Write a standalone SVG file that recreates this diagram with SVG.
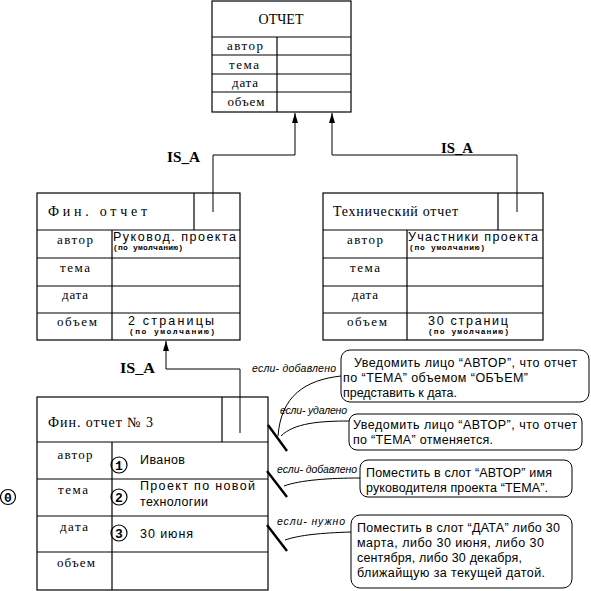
<svg xmlns="http://www.w3.org/2000/svg" width="591" height="591" viewBox="0 0 591 591">
<style>
.b{fill:none;stroke:#000;stroke-width:1.2}
.c{fill:none;stroke:#000;stroke-width:1}
.s{stroke:#000;stroke-width:2.4}
.lab{font-family:"Liberation Serif",serif;font-size:13px;fill:#000}
.ttl{font-family:"Liberation Serif",serif;font-size:14px;fill:#000}
.val{font-family:"Liberation Sans",Arial,sans-serif;font-size:12.5px;fill:#000}
.sm{font-family:"Liberation Mono",monospace;font-size:8px;font-weight:bold;fill:#000}
.isa{font-family:"Liberation Serif",serif;font-size:14px;font-weight:bold;fill:#000}
.it{font-family:"Liberation Sans",Arial,sans-serif;font-size:10.5px;font-style:italic;fill:#000}
.co{font-family:"Liberation Sans",Arial,sans-serif;font-size:12.5px;fill:#000}
.num{font-family:"Liberation Mono",monospace;font-size:13px;font-weight:bold;fill:#000}
</style>
<defs>
<marker id="ar" viewBox="0 0 10 6" refX="10" refY="3" markerWidth="10" markerHeight="6" markerUnits="userSpaceOnUse" orient="auto">
<path d="M0,0 L10,3 L0,6 z" fill="#000"/>
</marker>
</defs>
<rect width="591" height="591" fill="#fff"/>

<g id="otchet">
<rect class="b" x="212" y="1" width="139" height="111"/>
<path class="b" d="M212,37H351M212,55H351M212,74H351M212,92H351M277,37V112"/>
<text class="ttl" x="281" y="24" text-anchor="middle" textLength="45" lengthAdjust="spacing">ОТЧЕТ</text>
<text class="lab" x="245" y="50" text-anchor="middle" textLength="36" lengthAdjust="spacing">автор</text>
<text class="lab" x="244" y="69" text-anchor="middle" textLength="30" lengthAdjust="spacing">тема</text>
<text class="lab" x="245" y="87" text-anchor="middle" textLength="26" lengthAdjust="spacing">дата</text>
<text class="lab" x="246" y="106" text-anchor="middle" textLength="37" lengthAdjust="spacing">объем</text>
</g>

<g id="fin">
<rect class="b" x="37" y="193" width="203" height="147"/>
<path class="b" d="M37,230H240M37,258H240M37,286H240M37,313H240M112,230V340M194,193V230"/>
<text class="ttl" x="48" y="216" textLength="99" lengthAdjust="spacing">Фин. отчет</text>
<text class="lab" x="75" y="244" text-anchor="middle" textLength="36" lengthAdjust="spacing">автор</text>
<text class="lab" x="75" y="272" text-anchor="middle" textLength="30" lengthAdjust="spacing">тема</text>
<text class="lab" x="75" y="299" text-anchor="middle" textLength="26" lengthAdjust="spacing">дата</text>
<text class="lab" x="77" y="326" text-anchor="middle" textLength="40" lengthAdjust="spacing">объем</text>
<text class="val" x="113" y="241" textLength="123" lengthAdjust="spacing">Руковод.  проекта</text>
<text class="sm" x="113" y="250" textLength="70" lengthAdjust="spacing">(по умолчанию)</text>
<text class="val" x="128" y="325" textLength="86" lengthAdjust="spacing">2  страницы</text>
<text class="sm" x="129" y="334" textLength="86" lengthAdjust="spacing">(по умолчанию)</text>
</g>

<g id="tech">
<rect class="b" x="323" y="193" width="220" height="147"/>
<path class="b" d="M323,230H543M323,258H543M323,286H543M323,313H543M407,230V340M498,193V230"/>
<text class="ttl" x="333" y="216" textLength="125" lengthAdjust="spacing">Технический отчет</text>
<text class="lab" x="365" y="244" text-anchor="middle" textLength="36" lengthAdjust="spacing">автор</text>
<text class="lab" x="365" y="272" text-anchor="middle" textLength="30" lengthAdjust="spacing">тема</text>
<text class="lab" x="365" y="299" text-anchor="middle" textLength="26" lengthAdjust="spacing">дата</text>
<text class="lab" x="367" y="326" text-anchor="middle" textLength="40" lengthAdjust="spacing">объем</text>
<text class="val" x="408" y="241" textLength="130" lengthAdjust="spacing">Участники  проекта</text>
<text class="sm" x="409" y="250" textLength="76" lengthAdjust="spacing">(по умолчанию)</text>
<text class="val" x="428" y="325" textLength="80" lengthAdjust="spacing">30  страниц</text>
<text class="sm" x="428" y="334" textLength="81" lengthAdjust="spacing">(по умолчанию)</text>
</g>

<g id="fin3">
<rect class="b" x="37" y="397" width="231" height="193"/>
<path class="b" d="M37,442H268M37,479H268M37,516H268M37,552H268M112,442V590M222,397V442"/>
<text class="ttl" x="48" y="427" textLength="105" lengthAdjust="spacing">Фин. отчет  № 3</text>
<text class="lab" x="75" y="459" text-anchor="middle" textLength="35" lengthAdjust="spacing">автор</text>
<text class="lab" x="73" y="494" text-anchor="middle" textLength="30" lengthAdjust="spacing">тема</text>
<text class="lab" x="74" y="531" text-anchor="middle" textLength="28" lengthAdjust="spacing">дата</text>
<text class="lab" x="76" y="567" text-anchor="middle" textLength="38" lengthAdjust="spacing">объем</text>
<text class="val" x="140" y="464" textLength="45" lengthAdjust="spacing">Иванов</text>
<text class="val" x="140" y="490" textLength="115" lengthAdjust="spacing">Проект по новой</text>
<text class="val" x="140" y="506" textLength="68" lengthAdjust="spacing">технологии</text>
<text class="val" x="140" y="538" textLength="53" lengthAdjust="spacing">30  июня</text>
<circle class="b" cx="119" cy="465" r="8"/>
<text class="num" x="119" y="469.5" text-anchor="middle">1</text>
<circle class="b" cx="119" cy="497" r="8"/>
<text class="num" x="119" y="501.5" text-anchor="middle">2</text>
<circle class="b" cx="119" cy="533" r="8"/>
<text class="num" x="119" y="537.5" text-anchor="middle">3</text>
</g>

<g id="zero">
<circle class="b" cx="8" cy="497" r="7.5"/>
<text class="num" x="8" y="501.5" text-anchor="middle">0</text>
</g>

<g id="connectors">
<path class="c" d="M213,212V155H295V113" marker-end="url(#ar)"/>
<path class="c" d="M517,212V155H332V113" marker-end="url(#ar)"/>
<path class="c" d="M240,433V369H166V341" marker-end="url(#ar)"/>
<text class="isa" x="167" y="162" textLength="33" lengthAdjust="spacingAndGlyphs">IS_A</text>
<text class="isa" x="441" y="153" textLength="32" lengthAdjust="spacingAndGlyphs">IS_A</text>
<text class="isa" x="120" y="373" textLength="35" lengthAdjust="spacingAndGlyphs">IS_A</text>
<line class="s" x1="268" y1="425" x2="287" y2="451"/>
<line class="s" x1="267" y1="471" x2="287" y2="497"/>
<line class="s" x1="267" y1="525" x2="287" y2="551"/>
<path class="c" d="M341,376C305,380 281,396 278,436"/>
<path class="c" d="M349,421C320,421 294,423 281,436"/>
<path class="c" d="M360,478C330,478 300,480 284,486"/>
<path class="c" d="M351,532C320,533 300,535 285,540"/>
<text class="it" x="252" y="372" textLength="84" lengthAdjust="spacing">если- добавлено</text>
<text class="it" x="280" y="414" textLength="67" lengthAdjust="spacing">если- удалено</text>
<text class="it" x="277" y="473" textLength="80" lengthAdjust="spacing">если- добавлено</text>
<text class="it" x="277" y="525" textLength="68" lengthAdjust="spacing">если- нужно</text>
</g>

<g id="note1">
<rect class="c" x="341" y="350" width="248" height="52" rx="9"/>
<text class="co" x="354" y="367" textLength="223" lengthAdjust="spacing">Уведомить лицо “АВТОР”, что отчет</text>
<text class="co" x="343" y="382" textLength="185" lengthAdjust="spacing">по “ТЕМА” объемом “ОБЪЕМ”</text>
<text class="co" x="343" y="397" textLength="114" lengthAdjust="spacing">представить к  дата.</text>
</g>
<g id="note2">
<rect class="c" x="349" y="414" width="233" height="36" rx="8"/>
<text class="co" x="353" y="429" textLength="224" lengthAdjust="spacing">Уведомить лицо “АВТОР”, что отчет</text>
<text class="co" x="353" y="444" textLength="140" lengthAdjust="spacing">по “ТЕМА” отменяется.</text>
</g>
<g id="note3">
<rect class="c" x="360" y="460" width="212" height="37" rx="8"/>
<text class="co" x="366" y="477" textLength="186" lengthAdjust="spacing">Поместить в слот “АВТОР” имя</text>
<text class="co" x="366" y="492" textLength="182" lengthAdjust="spacing">руководителя проекта “ТЕМА”.</text>
</g>
<g id="note4">
<rect class="c" x="351" y="515" width="221" height="73" rx="9"/>
<text class="co" x="357" y="532" textLength="203" lengthAdjust="spacing">Поместить в слот “ДАТА” либо 30</text>
<text class="co" x="357" y="547" textLength="187" lengthAdjust="spacing">марта, либо 30 июня, либо 30</text>
<text class="co" x="357" y="562" textLength="165" lengthAdjust="spacing">сентября, либо 30 декабря,</text>
<text class="co" x="357" y="577" textLength="188" lengthAdjust="spacing">ближайщую за  текущей датой.</text>
</g>
</svg>
